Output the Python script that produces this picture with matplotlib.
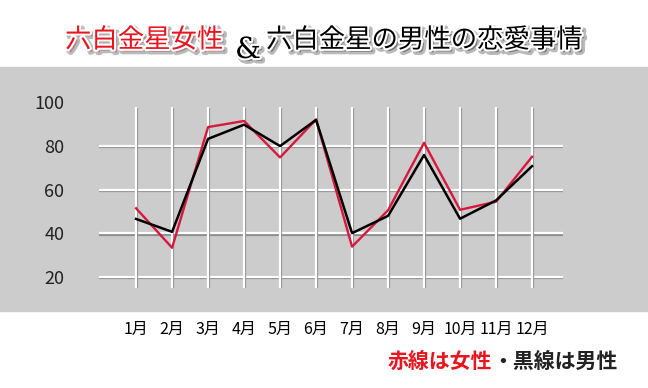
import matplotlib
matplotlib.use("Agg")
import matplotlib.pyplot as plt
import matplotlib.patheffects as pe
from matplotlib.patches import Rectangle

plt.rcParams['font.family'] = ['Noto Sans CJK JP', 'DejaVu Sans']

############## DATA ###############

months = ["1月", "2月", "3月", "4月", "5月", "6月",
          "7月", "8月", "9月", "10月", "11月", "12月"]
female = [51.5, 33.4, 88.7, 91.5, 74.8, 92.2, 33.9, 50.6, 81.5, 50.8, 54.5, 75.1]
male = [46.6, 40.7, 83.3, 89.8, 80.0, 92.0, 40.1, 48.0, 75.9, 46.7, 55.1, 70.8]
yticks = [20, 40, 60, 80, 100]
hgrid = [20, 40, 60, 80]

###################################

W, H = 648, 388
fig = plt.figure(figsize=(W / 100, H / 100), dpi=100)
fig.patch.set_facecolor("white")

# gray band behind the chart
fig.patches.append(Rectangle((0, 1 - 311 / H), 1, (311 - 67) / H,
                             transform=fig.transFigure, color="#cccccc", zorder=-5))

ax = fig.add_axes([99 / W, 1 - 288 / H, 464 / W, (288 - 95) / H])
ax.set_zorder(2)
ax.set_facecolor("none")
for s in ax.spines.values():
    s.set_visible(False)

x = list(range(len(months)))
ax.set_xlim(-1.03, 11.86)
ax.set_ylim(14.96, 103.4)

grid_fx = [pe.SimpleLineShadow(offset=(1, -1), shadow_color="#888888", alpha=0.9), pe.Normal()]
for v in hgrid:
    ax.axhline(v, color="white", lw=1.6, zorder=1, path_effects=grid_fx)
ax.vlines(x, 14.96, 97.9, color="white", lw=1.6, zorder=1, path_effects=grid_fx)

ax.plot(x, female, color="#d7183c", lw=1.7, zorder=3)
ax.plot(x, male, color="black", lw=1.8, zorder=4)

ax.set_xticks(x)
ax.set_xticklabels(months, fontsize=11.5)
ax.set_yticks(yticks)
ax.set_yticklabels([str(v) for v in yticks], fontsize=13, color="#222222")
ax.tick_params(axis="x", length=0, pad=24)
ax.tick_params(axis="y", length=0, pad=25)

# title
title_fx = [pe.Stroke(linewidth=4, foreground="#777777", alpha=0.5, offset=(2, -2)),
            pe.Stroke(linewidth=3, foreground="white"), pe.Normal()]
fig.text(65 / W, 1 - 40 / H, "六白金星女性", color="#e8141e", fontsize=19,
         ha="left", va="center", path_effects=title_fx)
fig.text(248 / W, 1 - 50 / H, "&", color="black", fontsize=21, family="DejaVu Serif",
         ha="center", va="center", path_effects=title_fx)
fig.text(266 / W, 1 - 40 / H, "六白金星の男性の恋愛事情", color="black", fontsize=19,
         ha="left", va="center", path_effects=title_fx)

# note
fig.text(388 / W, 1 - 361 / H, "赤線は女性", color="#e8141e", fontsize=15,
         fontweight="bold", ha="left", va="center")
fig.text(492 / W, 1 - 361 / H, "・黒線は男性", color="#222222", fontsize=15,
         fontweight="bold", ha="left", va="center")

fig.savefig("out.png", dpi=100)
